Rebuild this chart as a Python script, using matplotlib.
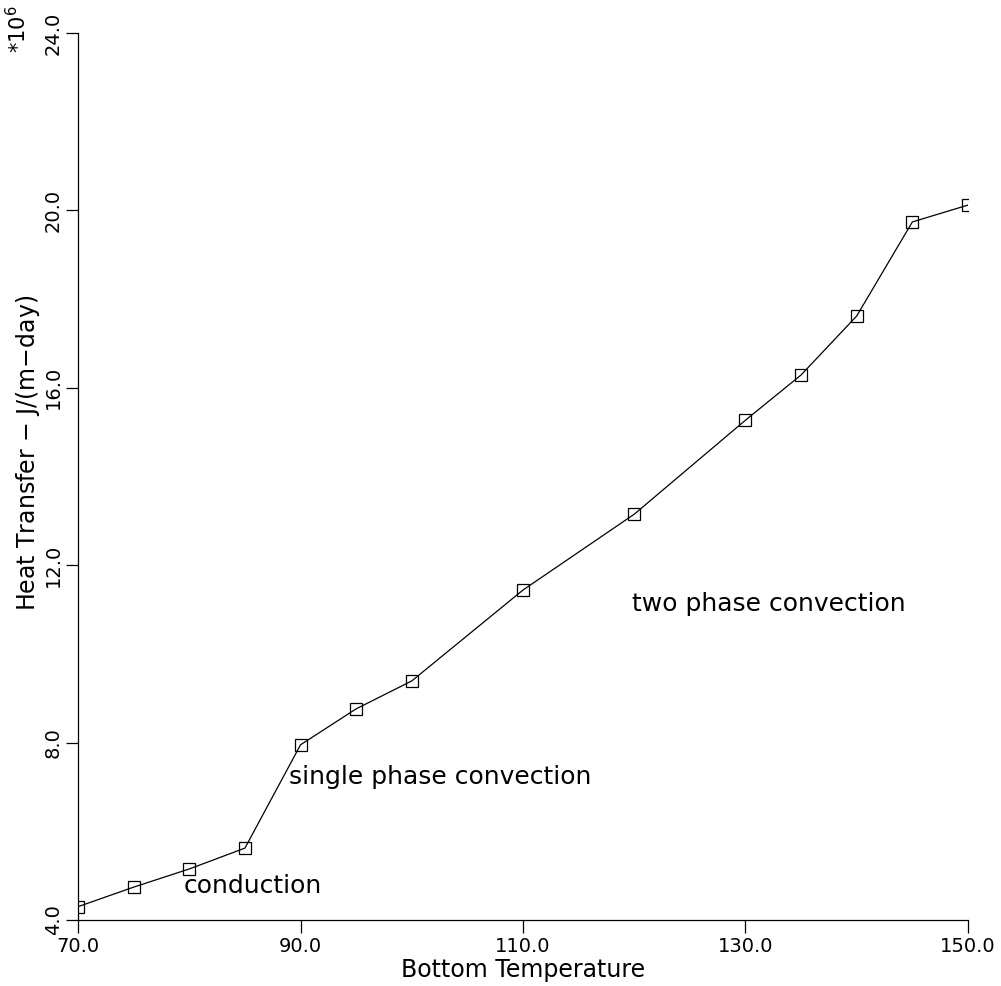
import matplotlib
matplotlib.use('Agg')
import matplotlib.pyplot as plt

# bottom temperature vs heat transfer (*10^6 J/(m-day))
temperatura = [70, 75, 80, 85, 90, 95, 100, 110, 120, 130, 135, 140, 145, 150]
ciepło = [4.30, 4.74, 5.15, 5.62, 7.95, 8.76, 9.39, 11.44, 13.15, 15.27, 16.29, 17.62, 19.74, 20.12]

x_ticks = [70, 90, 110, 130, 150]
y_ticks = [4, 8, 12, 16, 20, 24]

plt.rcParams['font.family'] = ['DejaVu Sans']

fig = plt.figure(figsize=(10.01, 9.86), dpi=100)
ax = fig.add_axes([0.078, 0.067, 0.889, 0.8995])

ax.plot(temperatura, ciepło, color='black', linewidth=0.9,
        marker='s', markersize=9, markerfacecolor='none',
        markeredgecolor='black', markeredgewidth=0.9)

ax.set_xlim(70, 150)
ax.set_ylim(4, 24)
ax.set_xticks(x_ticks)
ax.set_yticks(y_ticks)
ax.set_xticklabels([f'{v:.1f}' for v in x_ticks], fontsize=14)
ax.set_yticklabels([f'{v:.1f}' for v in y_ticks], fontsize=14, rotation=90, va='center')
ax.tick_params(direction='out', length=9, width=0.9, color='black')
ax.tick_params(axis='x', pad=3)
ax.tick_params(axis='y', pad=2)

ax.spines['top'].set_visible(False)
ax.spines['right'].set_visible(False)
ax.spines['left'].set_linewidth(0.9)
ax.spines['bottom'].set_linewidth(0.9)

ax.set_xlabel('Bottom Temperature', fontsize=17, labelpad=2)
fig.text(0.028, 0.541, 'Heat Transfer $-$ J/(m$-$day)', rotation=90,
         fontsize=17, ha='center', va='center')
fig.text(0.018, 0.995, r'*10$^6$', rotation=90, fontsize=15, ha='center', va='top')

ax.text(79.5, 4.77, 'conduction', fontsize=18, va='center')
ax.text(89.0, 7.22, 'single phase convection', fontsize=18, va='center')
ax.text(119.8, 11.12, 'two phase convection', fontsize=18, va='center')

plt.savefig('out.png', dpi=100)
